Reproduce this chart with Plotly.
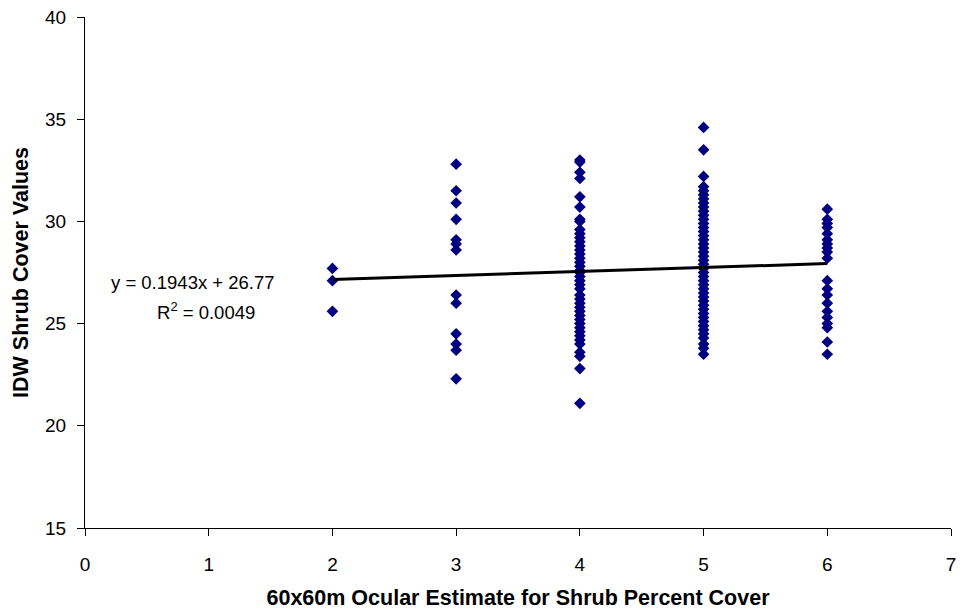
import plotly.graph_objects as go

# Observed IDW shrub cover values grouped by ocular estimate class
ocular_classes = [2, 3, 4, 5, 6]
idw_at_2 = [27.7, 27.1, 25.6]
idw_at_3 = [32.8, 31.5, 30.9, 30.1, 29.1, 28.9, 28.6, 26.4, 26.0, 24.5, 24.0, 23.7, 22.3]
idw_at_4 = [33.0, 32.9, 32.4, 32.1, 31.2, 30.7, 30.1, 30.0, 29.6, 29.4, 29.2, 29.0,
            28.8, 28.6, 28.4, 28.2, 28.0, 27.8, 27.6, 27.5, 27.3, 27.1, 26.9, 26.7,
            26.4, 26.2, 26.0, 25.8, 25.6, 25.4, 25.2, 25.0, 24.8, 24.6, 24.4, 24.2,
            24.0, 23.6, 23.4, 22.8, 21.1]
idw_at_5 = [34.6, 33.5, 32.2, 31.7, 31.5, 31.3, 31.1, 30.9, 30.7, 30.5, 30.3, 30.1,
            29.9, 29.7, 29.5, 29.3, 29.1, 28.9, 28.7, 28.5, 28.3, 28.1, 27.9, 27.7,
            27.5, 27.3, 27.1, 26.9, 26.7, 26.5, 26.3, 26.1, 25.9, 25.7, 25.5, 25.3,
            25.1, 24.9, 24.7, 24.5, 24.3, 24.0, 23.8, 23.5]
idw_at_6 = [30.6, 30.1, 29.9, 29.7, 29.4, 29.1, 28.9, 28.7, 28.5, 28.2, 27.1, 26.7,
            26.4, 26.0, 25.6, 25.3, 25.0, 24.8, 24.1, 23.5]

# Linear trendline reported on the chart
trend_slope = 0.1943
trend_intercept = 26.77
trend_label = "y = 0.1943x + 26.77"
r2_label = "R<sup>2</sup> = 0.0049"

x_ticks = [0, 1, 2, 3, 4, 5, 6, 7]
y_ticks = [15, 20, 25, 30, 35, 40]

groups = [idw_at_2, idw_at_3, idw_at_4, idw_at_5, idw_at_6]
xs, ys = [], []
for cls, vals in zip(ocular_classes, groups):
    xs.extend([cls] * len(vals))
    ys.extend(vals)

trend_x = [min(ocular_classes), max(ocular_classes)]
trend_y = [trend_slope * v + trend_intercept for v in trend_x]

fig = go.Figure()
fig.add_trace(go.Scatter(
    x=xs, y=ys, mode="markers",
    marker=dict(symbol="diamond", size=9, color="#000080", line=dict(width=0)),
    showlegend=False, hoverinfo="x+y"))
fig.add_trace(go.Scatter(
    x=trend_x, y=trend_y, mode="lines",
    line=dict(color="black", width=3), showlegend=False))

fig.add_annotation(x=1.555, y=26.99, xref="x", yref="y", text=trend_label,
                   showarrow=False, xanchor="right", yanchor="middle",
                   font=dict(size=18.5, color="black"))
fig.add_annotation(x=0.98, y=25.6, xref="x", yref="y", text=r2_label,
                   showarrow=False, xanchor="center", yanchor="middle",
                   font=dict(size=18.5, color="black"))

fig.update_layout(
    width=963, height=613,
    margin=dict(l=85, r=7, t=16, b=82),
    paper_bgcolor="white", plot_bgcolor="white",
    font=dict(family="Liberation Sans, Arial, sans-serif", size=19, color="black"),
)
fig.update_xaxes(
    range=[0, 7], tickvals=x_ticks, showgrid=False, zeroline=False,
    showline=True, linecolor="black", linewidth=1,
    ticks="outside", ticklen=7, tickcolor="black", ticklabelstandoff=12,
    tickfont=dict(size=19),
    title=dict(text="<b>60x60m Ocular Estimate for Shrub Percent Cover</b>",
               font=dict(size=21.5), standoff=16),
)
fig.update_yaxes(
    range=[15, 40], tickvals=y_ticks, showgrid=False, zeroline=False,
    showline=True, linecolor="black", linewidth=1,
    ticks="outside", ticklen=7, tickcolor="black", ticklabelstandoff=7,
    tickfont=dict(size=19),
    title=dict(text="<b>IDW Shrub Cover Values</b>", font=dict(size=21.5), standoff=10),
)

fig.write_html("out.html")
